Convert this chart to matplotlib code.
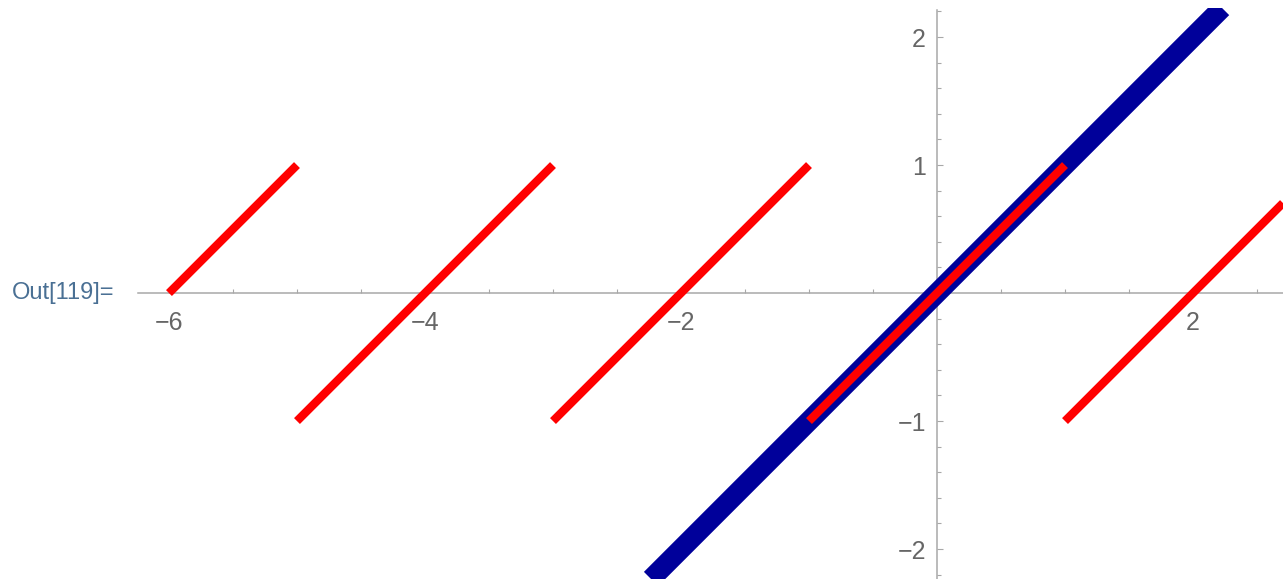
import numpy as np
import matplotlib
matplotlib.use("Agg")
import matplotlib.pyplot as plt
import matplotlib.ticker as mticker

plt.rcParams.update({
    "font.family": ["Liberation Sans", "DejaVu Sans"],
    "axes.unicode_minus": True,
})

# ── Data ──────────────────────────────────────────────────────────────────────
# identity line y = x
line_x = [-2.234, 2.227]
line_y = [-2.234, 2.227]

# sawtooth pieces (start/end of each red segment)
saw_x0 = [-6, -5, -3, -1, 1]
saw_x1 = [-5, -3, -1, 1, 2.703]
saw_y0 = [0, -1, -1, -1, -1]
saw_y1 = [1, 1, 1, 1, 0.703]

xticks_major = [-6, -4, -2, 2]
yticks_major = [-2, -1, 1, 2]
xticks_minor = [-5.5, -5, -4.5, -3.5, -3, -2.5, -1.5, -1, -0.5, 0.5, 1, 1.5, 2.5]
yticks_minor = [-2.2, -1.8, -1.6, -1.4, -1.2, -0.8, -0.6, -0.4, -0.2,
                0.2, 0.4, 0.6, 0.8, 1.2, 1.4, 1.6, 1.8, 2.2]

AXIS_GREY = "#a8a8a8"
LABEL_GREY = "#666666"
BLUE = "#00009a"
RED = "#ff0000"

fig = plt.figure(figsize=(12.83, 5.79), dpi=100)
ax = fig.add_axes([0, 0, 1, 571 / 579])

ax.plot(line_x, line_y, color=BLUE, linewidth=14.5, solid_capstyle="butt")
for x0, x1, y0, y1 in zip(saw_x0, saw_x1, saw_y0, saw_y1):
    ax.plot([x0, x1], [y0, y1], color=RED, linewidth=6.0, solid_capstyle="butt")

ax.set_xlim(-7.32, 2.703)
ax.set_ylim(-2.234, 2.227)

# axes through the origin
ax.spines["left"].set_position(("data", 0))
ax.spines["bottom"].set_position(("data", 0))
ax.spines["top"].set_visible(False)
ax.spines["right"].set_visible(False)
ax.spines["bottom"].set_bounds(-6.24, 2.703)
ax.spines["left"].set_bounds(-2.234, 2.21)
for s in ("left", "bottom"):
    ax.spines[s].set_color(AXIS_GREY)
    ax.spines[s].set_linewidth(1.1)
    ax.spines[s].set_zorder(0.5)

fmt = mticker.FuncFormatter(lambda v, p: f"{v:g}".replace("-", "\u2212"))
ax.xaxis.set_major_locator(mticker.FixedLocator(xticks_major))
ax.xaxis.set_minor_locator(mticker.FixedLocator(xticks_minor))
ax.yaxis.set_major_locator(mticker.FixedLocator(yticks_major))
ax.yaxis.set_minor_locator(mticker.FixedLocator(yticks_minor))
ax.xaxis.set_major_formatter(fmt)
ax.yaxis.set_major_formatter(fmt)

ax.tick_params(axis="x", which="major", direction="in", length=4.3, width=0.8,
               color=AXIS_GREY, labelcolor=LABEL_GREY, labelsize=18, pad=13)
ax.tick_params(axis="x", which="minor", direction="in", length=2.9, width=0.8, color=AXIS_GREY)
ax.tick_params(axis="y", which="major", direction="in", length=4.3, width=0.8,
               color=AXIS_GREY, labelcolor=LABEL_GREY, labelsize=18, pad=8)
ax.tick_params(axis="y", which="minor", direction="in", length=2.9, width=0.8, color=AXIS_GREY)

ax.patch.set_visible(False)

fig.text(12 / 1283, 1 - 293 / 579, "Out[119]=", color="#4a7094",
         fontsize=17, ha="left", va="center")

fig.savefig("out.png", dpi=100)
